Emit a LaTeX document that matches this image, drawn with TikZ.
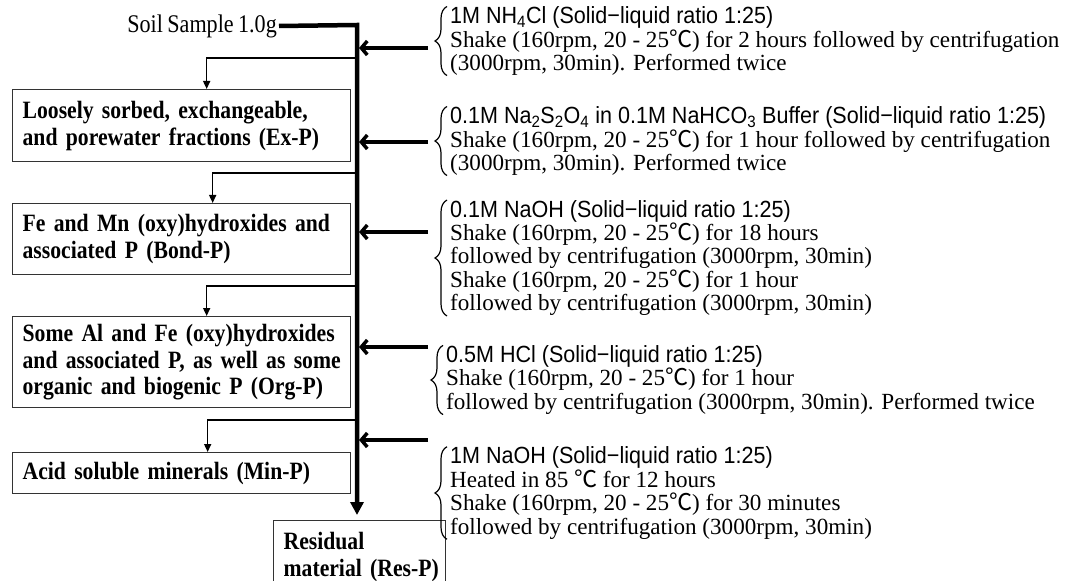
\documentclass[tikz,border=0pt]{standalone}
\usepackage{fontspec}
\setmainfont{Liberation Serif}
\newfontfamily\boxfont[FakeStretch=0.87,WordSpace=0.8]{Liberation Serif}
\newfontfamily\gothic[FakeStretch=0.92]{Liberation Sans}
\newfontfamily\cjk{Noto Sans CJK JP}
\usetikzlibrary{arrows.meta,decorations.pathreplacing}
\newcommand{\degc}{{\cjk ℃}}
\tikzset{
  fraction/.style={draw=black!80, line width=1.3bp, anchor=north west, inner xsep=10bp, text width=318bp, align=left, font=\fontsize{25}{27}\boxfont\bfseries},
  reagent/.style={anchor=west, inner sep=0pt, align=left, font=\fontsize{23.2}{23.5}\selectfont},
  spine/.style={line width=4.5bp},
  feed/.style={line width=3.5bp, -{Straight Barb[length=6bp,width=14bp]}, shorten >=2bp},
  branch/.style={line width=1.5bp, -{Triangle[length=8bp,width=7bp]}},
  curly/.style={decorate, decoration={brace, amplitude=12bp}, line width=1.2bp},
}
\begin{document}
\begin{tikzpicture}[x=1bp,y=-1bp]
\useasboundingbox (0,0) rectangle (1074,581);
\node[anchor=east, inner sep=2bp, font=\fontsize{25.5}{27}\boxfont] (soil) at (279,26) {Soil Sample 1.0g};
\coordinate (top) at (357,25);
\node[fraction, minimum height=72bp] (ex) at (12,89) {Loosely sorbed, exchangeable,\\and porewater fractions (Ex-P)};
\node[fraction, minimum height=71bp] (bond) at (12,203) {Fe and Mn (oxy)hydroxides and\\associated P (Bond-P)};
\node[fraction, minimum height=91bp] (org) at (12,316) {\mbox{Some Al and Fe (oxy)hydroxides}\\\mbox{and associated P, as well as some}\\organic and biogenic P (Org-P)};
\node[fraction, minimum height=41bp] (min) at (12,452) {Acid soluble minerals (Min-P)};
\node[fraction, text width=152bp, inner xsep=10bp, minimum height=72bp] (res) at (273,520) {Residual\\\mbox{material (Res-P)}};
\draw[spine, -{Triangle[length=13bp,width=13bp]}, shorten >=5bp] (soil.east) -- (top) -- (top |- res.north);
\coordinate (b1) at (357,58);
\coordinate (b2) at (357,173);
\coordinate (b3) at (357,286);
\coordinate (b4) at (357,420);
\draw[branch] (b1) -| ([xshift=25bp]ex.north);
\draw[branch] (b2) -| ([xshift=31bp]bond.north);
\draw[branch] (b3) -| ([xshift=25bp]org.north);
\draw[branch] (b4) -| ([xshift=26bp]min.north);
\node[reagent] (r1) at (450,41) {{\gothic\fontsize{23.5}{23.5}\selectfont 1M NH\textsubscript{4}Cl (Solid−liquid ratio 1:25)}\\Shake (160rpm, 20 - 25\degc) for 2 hours followed by centrifugation\\(3000rpm, 30min). Performed twice};
\node[reagent] (r2) at (450,141) {{\gothic\fontsize{23.5}{23.5}\selectfont 0.1M Na\textsubscript{2}S\textsubscript{2}O\textsubscript{4} in 0.1M NaHCO\textsubscript{3} Buffer (Solid−liquid ratio 1:25)}\\Shake (160rpm, 20 - 25\degc) for 1 hour followed by centrifugation\\(3000rpm, 30min). Performed twice};
\node[reagent] (r3) at (450,258) {{\gothic\fontsize{23.5}{23.5}\selectfont 0.1M NaOH (Solid−liquid ratio 1:25)}\\Shake (160rpm, 20 - 25\degc) for 18 hours\\followed by centrifugation (3000rpm, 30min)\\Shake (160rpm, 20 - 25\degc) for 1 hour\\followed by centrifugation (3000rpm, 30min)};
\node[reagent] (r4) at (446,380) {{\gothic\fontsize{23.5}{23.5}\selectfont 0.5M HCl (Solid−liquid ratio 1:25)}\\Shake (160rpm, 20 - 25\degc) for 1 hour\\followed by centrifugation (3000rpm, 30min). Performed twice};
\node[reagent] (r5) at (450,493) {{\gothic\fontsize{23.5}{23.5}\selectfont 1M NaOH (Solid−liquid ratio 1:25)}\\Heated in 85 \degc\ for 12 hours\\Shake (160rpm, 20 - 25\degc) for 30 minutes\\followed by centrifugation (3000rpm, 30min)};
\foreach \r in {r1,r2,r3,r4,r5}
  \draw[curly] ([xshift=-3bp]\r.south west) -- ([xshift=-3bp]\r.north west);
\coordinate (f1) at (428,48);
\coordinate (f2) at (428,142);
\coordinate (f3) at (428,232);
\coordinate (f4) at (428,347);
\coordinate (f5) at (428,440);
\foreach \f in {f1,f2,f3,f4,f5}
  \draw[feed] (\f) -- (\f -| top);
\end{tikzpicture}
\end{document}
